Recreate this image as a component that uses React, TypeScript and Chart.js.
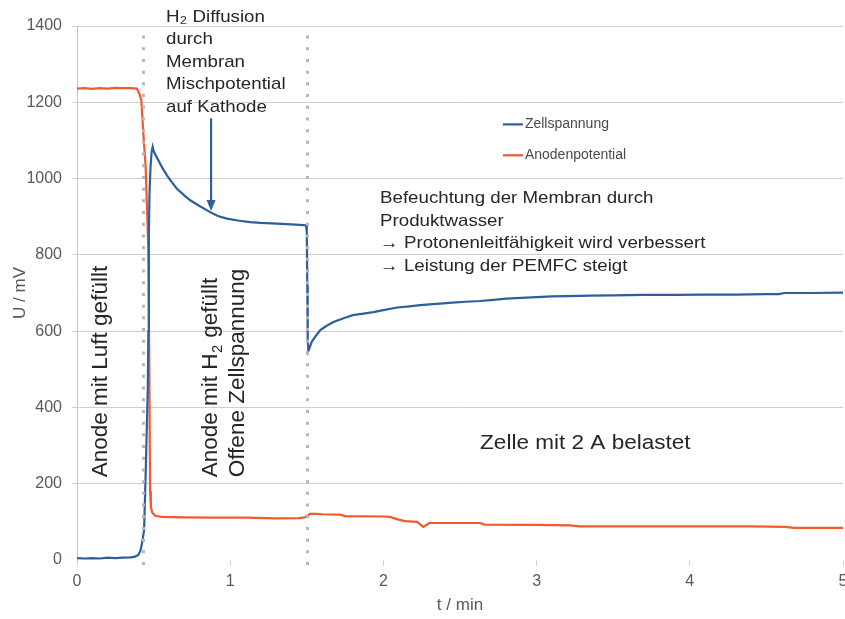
import React, { useEffect, useRef } from "react";
import { Chart, registerables } from "chart.js";

Chart.register(...registerables);

const FONT = '"Liberation Sans", Arial, Helvetica, sans-serif';

// Zellspannung: Zeit in min, Spannung in mV
const tZell = [
  0, 0.05, 0.1, 0.15, 0.2, 0.25, 0.3, 0.35, 0.38, 0.4, 0.415, 0.425, 0.438, 0.45,
  0.462, 0.466, 0.469, 0.473, 0.48, 0.487, 0.494, 0.5, 0.531, 0.56, 0.586, 0.62,
  0.651, 0.7, 0.739, 0.8, 0.869, 0.92, 0.978, 1.05, 1.13, 1.2, 1.305, 1.4, 1.479,
  1.495, 1.5, 1.503, 1.506, 1.51, 1.52, 1.532, 1.56, 1.588, 1.63, 1.674, 1.74, 1.8,
  1.87, 1.935, 2.0, 2.09, 2.17, 2.24, 2.3, 2.37, 2.45, 2.54, 2.63, 2.72, 2.8, 2.9,
  3.0, 3.1, 3.2, 3.35, 3.5, 3.7, 3.9, 4.1, 4.3, 4.5, 4.58, 4.62, 4.8, 5.0,
];
const uZell = [
  5, 4, 5, 4, 6, 5, 6, 7, 9, 13, 25, 45, 79, 254,
  450, 600, 850, 960, 1030, 1070, 1083, 1072, 1048, 1026, 1009, 990,
  974, 956, 943, 928, 912, 902, 895, 890, 886, 884, 882, 880, 878,
  877, 860, 720, 580, 548, 558, 572, 588, 603, 614, 624, 634, 642,
  646, 650, 655, 662, 665, 668, 670, 672, 675, 677, 679, 682, 685, 687,
  689, 691, 692, 693, 694, 695, 695, 696, 696, 697, 697, 700, 700, 701,
];

// Anodenpotential: Zeit in min, Potential in mV
const tAnode = [
  0, 0.05, 0.1, 0.15, 0.2, 0.25, 0.3, 0.35, 0.39, 0.405, 0.42, 0.433, 0.448, 0.455,
  0.466, 0.472, 0.477, 0.482, 0.49, 0.51, 0.55, 0.7, 0.9, 1.1, 1.3, 1.45, 1.49,
  1.505, 1.52, 1.56, 1.6, 1.717, 1.75, 2.0, 2.04, 2.1, 2.14, 2.22, 2.26, 2.3, 2.63,
  2.66, 3.0, 3.22, 3.28, 3.6, 4.0, 4.4, 4.62, 4.68, 5.0,
];
const uAnode = [
  1236, 1237, 1235, 1237, 1236, 1238, 1237, 1237, 1236, 1225, 1205, 1119, 1030, 943,
  812, 500, 180, 140, 125, 116, 113, 112, 111, 111, 109, 110, 112,
  116, 121, 121, 120, 119, 115, 114, 113, 106, 102, 100, 87, 97, 97,
  93, 92, 91, 88, 88, 88, 88, 87, 84, 84,
];

const seriesLabels = ["Zellspannung", "Anodenpotential"];
const seriesColors = ["#2e5e9c", "#f4582b"];

// Achsen
const xMin = 0;
const xMax = 5;
const xStep = 1;
const yMin = 0;
const yMax = 1400;
const yStep = 200;
const xTitle = "t / min";
const yTitle = "U / mV";

// Umschaltzeitpunkte: H2 auf die Anode, Last zugeschaltet
const switchTimes = [0.431, 1.503];

// Beschriftungen im Diagramm
const noteDiffusion = ["H₂ Diffusion", "durch", "Membran", "Mischpotential", "auf Kathode"];
const noteBefeuchtung = [
  "Befeuchtung der Membran durch",
  "Produktwasser",
  "→ Protonenleitfähigkeit wird verbessert",
  "→ Leistung der PEMFC steigt",
];
const phaseLabels = ["Anode mit Luft gefüllt", "Anode mit H₂ gefüllt", "Offene Zellspannung"];
const loadLabel = "Zelle mit 2 A belastet";

// Text mit tiefgestellter "2" (H₂) zeichnen, optional horizontal gedehnt
function drawRich(
  ctx: CanvasRenderingContext2D,
  text: string,
  x: number,
  y: number,
  size: number,
  stretch: number
) {
  ctx.save();
  ctx.translate(x, y);
  ctx.scale(stretch, 1);
  const parts = text.split("₂");
  let cx = 0;
  parts.forEach((part, i) => {
    ctx.font = `${size}px ${FONT}`;
    ctx.fillText(part, cx, 0);
    cx += ctx.measureText(part).width;
    if (i < parts.length - 1) {
      const s = size * 0.66;
      ctx.font = `${s}px ${FONT}`;
      ctx.fillText("2", cx + size * 0.02, size * 0.2);
      cx += ctx.measureText("2").width + size * 0.05;
    }
  });
  ctx.restore();
}

const annotationPlugin = {
  id: "fuelCellNotes",
  afterDatasetsDraw(chart: any) {
    const { ctx, chartArea, scales } = chart;
    const X = (t: number) => scales.x.getPixelForValue(t);
    const Y = (u: number) => scales.y.getPixelForValue(u);
    ctx.save();

    // gepunktete Markierungen der Umschaltzeitpunkte
    ctx.strokeStyle = "#b7b7b7";
    ctx.lineWidth = 3;
    ctx.setLineDash([3, 8.7]);
    switchTimes.forEach((t) => {
      const x = Math.round(X(t)) + 0.5;
      ctx.beginPath();
      ctx.moveTo(x, Y(1375));
      ctx.lineTo(x, chartArea.bottom + 12);
      ctx.stroke();
    });
    ctx.setLineDash([]);

    // Pfeil auf das Mischpotential
    const ax = X(0.875);
    const ayTop = Y(1158);
    const ayTip = Y(915);
    ctx.strokeStyle = seriesColors[0];
    ctx.fillStyle = seriesColors[0];
    ctx.lineWidth = 2.2;
    ctx.beginPath();
    ctx.moveTo(ax, ayTop);
    ctx.lineTo(ax, ayTip - 9);
    ctx.stroke();
    ctx.beginPath();
    ctx.moveTo(ax - 4.5, ayTip - 11);
    ctx.lineTo(ax + 4.5, ayTip - 11);
    ctx.lineTo(ax, ayTip);
    ctx.closePath();
    ctx.fill();

    // waagerechte Beschriftungen
    ctx.fillStyle = "#262626";
    ctx.textAlign = "left";
    ctx.textBaseline = "middle";
    noteDiffusion.forEach((line, i) =>
      drawRich(ctx, line, X(0.581), Y(1423) + i * 22.5, 17, 1.1)
    );
    noteBefeuchtung.forEach((line, i) =>
      drawRich(ctx, line, X(1.978), Y(948) + i * 22.7, 17, 1.1)
    );
    drawRich(ctx, loadLabel, X(2.631), Y(306), 20.5, 1.1);

    // senkrechte Phasenbeschriftungen
    const phaseAnchors = [0.196, 0.914, 1.09];
    ctx.textBaseline = "alphabetic";
    phaseLabels.forEach((text, i) => {
      ctx.save();
      ctx.translate(X(phaseAnchors[i]), Y(217));
      ctx.rotate(-Math.PI / 2);
      drawRich(ctx, text, 0, 0, 22.5, 1);
      ctx.restore();
    });

    // Legende
    const lx = X(2.78);
    const legendRows = [1142, 1061];
    ctx.textBaseline = "middle";
    ctx.font = `14px ${FONT}`;
    chart.data.datasets.forEach((ds: any, i: number) => {
      const ly = Y(legendRows[i]);
      ctx.strokeStyle = ds.borderColor;
      ctx.lineWidth = 2.2;
      ctx.beginPath();
      ctx.moveTo(lx, ly);
      ctx.lineTo(lx + 20, ly);
      ctx.stroke();
      ctx.fillStyle = "#4a4a4a";
      ctx.fillText(ds.label, lx + 22, ly);
    });

    ctx.restore();
  },
};

export default function App() {
  const ref = useRef<HTMLCanvasElement>(null);

  useEffect(() => {
    document.body.style.margin = "0";
    const canvas = ref.current;
    if (!canvas) return;

    const toPoints = (ts: number[], us: number[]) => ts.map((t, i) => ({ x: t, y: us[i] }));

    const chart = new Chart(canvas, {
      type: "line",
      data: {
        datasets: [
          {
            label: seriesLabels[0],
            data: toPoints(tZell, uZell),
            borderColor: seriesColors[0],
            backgroundColor: seriesColors[0],
            borderWidth: 2.2,
            pointRadius: 0,
            tension: 0,
          },
          {
            label: seriesLabels[1],
            data: toPoints(tAnode, uAnode),
            borderColor: seriesColors[1],
            backgroundColor: seriesColors[1],
            borderWidth: 2.2,
            pointRadius: 0,
            tension: 0,
          },
        ],
      },
      options: {
        animation: false,
        responsive: false,
        events: [],
        layout: { padding: { top: 26, right: 2, bottom: 0, left: 0 } },
        plugins: {
          legend: { display: false },
          tooltip: { enabled: false },
        },
        scales: {
          x: {
            type: "linear",
            min: xMin,
            max: xMax,
            ticks: {
              stepSize: xStep,
              padding: 6,
              color: "#595959",
              font: { family: FONT, size: 16 },
              callback: (v: any) => String(v),
            },
            grid: {
              drawOnChartArea: false,
              drawTicks: true,
              tickLength: 6,
              color: "#d3d3d3",
            },
            border: { display: false },
            title: {
              display: true,
              text: xTitle,
              color: "#595959",
              font: { family: FONT, size: 17 },
              padding: { top: 0, bottom: 3 },
            },
            afterFit: (scale: any) => {
              scale.height = 59;
              scale.paddingLeft = 0;
              scale.paddingRight = 0;
            },
          },
          y: {
            type: "linear",
            min: yMin,
            max: yMax,
            ticks: {
              stepSize: yStep,
              padding: 10,
              color: "#595959",
              font: { family: FONT, size: 16 },
              callback: (v: any) => String(v),
            },
            grid: {
              tickLength: 5,
              lineWidth: 1,
              color: (c: any) => (c.tick && c.tick.value === 0 ? "rgba(0,0,0,0)" : "#cfcfcf"),
            },
            border: { display: true, color: "#c4c4c4" },
            title: {
              display: true,
              text: yTitle,
              color: "#595959",
              font: { family: FONT, size: 17 },
              padding: { top: 10, bottom: 0 },
            },
            afterFit: (scale: any) => {
              scale.width = 77;
              scale.paddingTop = 0;
              scale.paddingBottom = 0;
            },
          },
        },
      },
      plugins: [annotationPlugin],
    });

    return () => chart.destroy();
  }, []);

  return (
    <div style={{ width: 845, height: 619 }}>
      <canvas ref={ref} width={845} height={619} style={{ width: 845, height: 619, display: "block" }} />
    </div>
  );
}
